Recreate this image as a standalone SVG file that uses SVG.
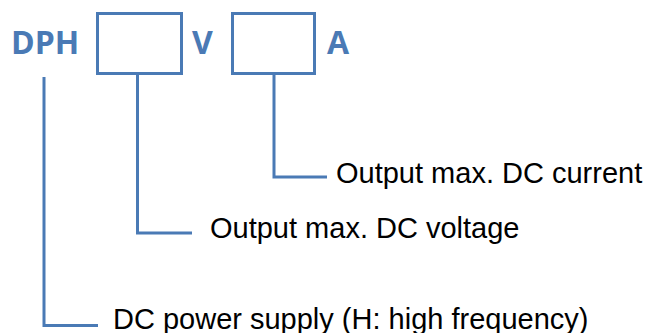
<svg xmlns="http://www.w3.org/2000/svg" width="648" height="333" viewBox="0 0 648 333">
<style>
.code{font-family:"Open Sans","DejaVu Sans",sans-serif;font-weight:bold;font-size:32px;fill:#4a7ab5}
.lbl{font-family:"Liberation Sans",Arial,sans-serif;font-size:29px;fill:#000}
.box{fill:#fff;stroke:#4a7ab5;stroke-width:3}
.conn{fill:none;stroke:#4a7ab5;stroke-width:3}
</style>
<rect width="648" height="333" fill="#fff"/>
<g id="code">
<text class="code" x="11" y="54">DPH</text>
<text class="code" x="192" y="54">V</text>
<text class="code" x="327" y="54">A</text>
</g>
<g id="box-voltage"><rect class="box" x="97.5" y="13.5" width="84" height="60"/></g>
<g id="box-current"><rect class="box" x="232.5" y="13.5" width="82" height="60"/></g>
<g id="connectors">
<polyline class="conn" points="44,77 44,325.5 98,325.5"/>
<polyline class="conn" points="137.5,75 137.5,233 192,233"/>
<polyline class="conn" points="274,75 274,177 327,177"/>
</g>
<g id="label-current"><text class="lbl" x="336" y="183">Output max. DC current</text></g>
<g id="label-voltage"><text class="lbl" x="210" y="238">Output max. DC voltage</text></g>
<g id="label-dph"><text class="lbl" x="113" y="328.5">DC power supply (H: high frequency)</text></g>
</svg>
